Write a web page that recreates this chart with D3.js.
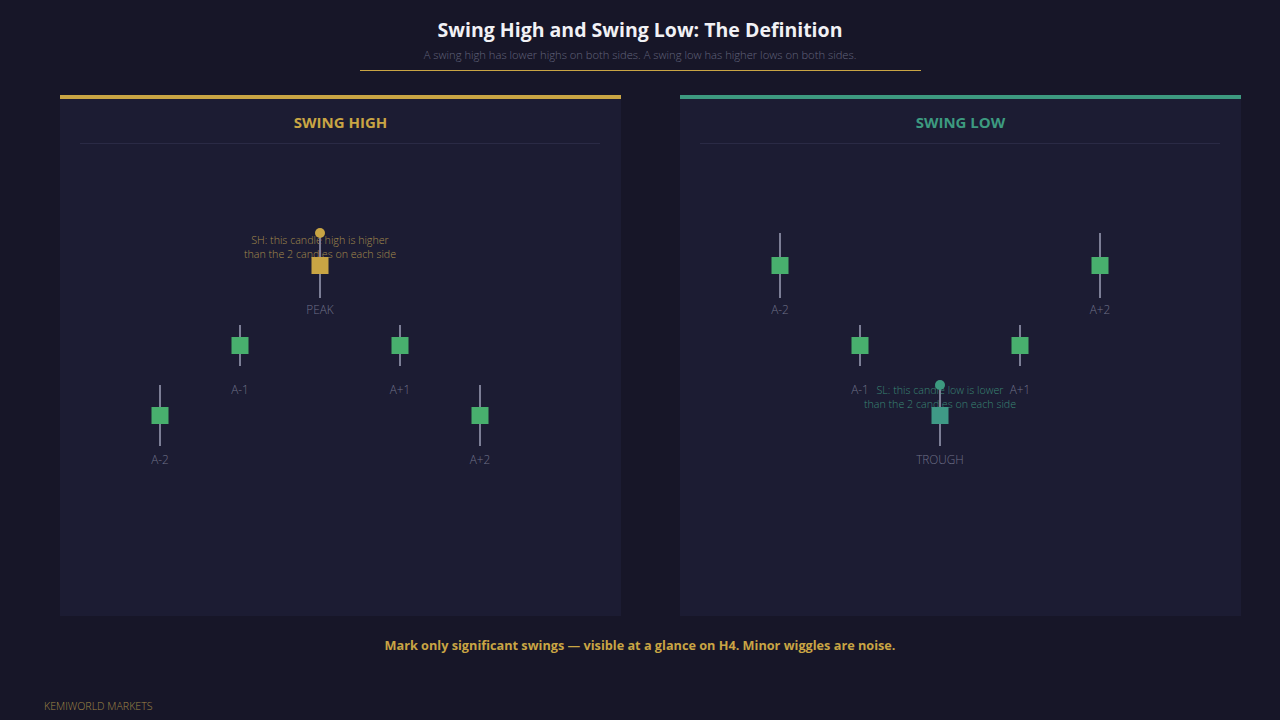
<!DOCTYPE html>
<html><head><meta charset="utf-8">
<script src="https://cdn.jsdelivr.net/npm/d3@7/dist/d3.min.js"></script>
<style>
html,body{margin:0;padding:0;background:#171628;}
svg{display:block;font-family:"Open Sans","Noto Sans",sans-serif;}
</style></head>
<body>
<svg id="c" width="1280" height="720"></svg>
<script>
// ---- data ----
const candleLabels = ["A-2","A-1","CENTER","A+1","A+2"];
const highLabels = ["A-2","A-1","PEAK","A+1","A+2"];
const lowLabels  = ["A-2","A-1","TROUGH","A+1","A+2"];
// Swing high panel (arbitrary price units)
const shHigh  = [115,175,267,175,115];
const shLow   = [54,134,202,134,54];
const shOpen  = [76,146,226,146,76];
const shClose = [93,163,243,163,93];
// Swing low panel
const slHigh  = [267,175,115,175,267];
const slLow   = [202,134,54,134,202];
const slOpen  = [226,146,76,146,226];
const slClose = [243,163,93,163,243];

const titleText = "Swing High and Swing Low: The Definition";
const subtitleText = "A swing high has lower highs on both sides. A swing low has higher lows on both sides.";
const footerText = "Mark only significant swings \u2014 visible at a glance on H4. Minor wiggles are noise.";
const brandText = "KEMIWORLD MARKETS";

const GOLD = "#c9a544", TEAL = "#3d9a80", GREEN = "#48b06e", WICK = "#7c7e96";

const svg = d3.select("#c");
svg.append("rect").attr("width",1280).attr("height",720).attr("fill","#171628");

svg.append("text").attr("x",640).attr("y",37).attr("text-anchor","middle")
  .attr("fill","#f1f1f5").attr("font-size",19.5).attr("font-weight",700).text(titleText);
svg.append("text").attr("x",640).attr("y",59).attr("text-anchor","middle")
  .attr("fill","#62647c").attr("font-size",11.2).attr("font-weight",300).text(subtitleText);
svg.append("line").attr("x1",360).attr("x2",921).attr("y1",70.5).attr("y2",70.5)
  .attr("stroke",GOLD).attr("stroke-width",1);

const y = d3.scaleLinear().domain([0,300]).range([500,200]);
const x = d3.scalePoint().domain(candleLabels).range([100,420]);

function panel(px, color, title, labels, hi, lo, op, cl, special, dotIdx, dotVal, noteY, noteLines, noteColor, specialColor){
  const g = svg.append("g").attr("transform",`translate(${px},0)`);
  g.append("rect").attr("x",0).attr("y",95).attr("width",561).attr("height",521).attr("fill","#1c1c33");
  g.append("rect").attr("x",0).attr("y",95).attr("width",561).attr("height",4).attr("fill",color);
  g.append("text").attr("x",280.5).attr("y",128).attr("text-anchor","middle")
    .attr("fill",color).attr("font-size",15).attr("font-weight",700).text(title);
  g.append("line").attr("x1",20).attr("x2",540).attr("y1",143.5).attr("y2",143.5)
    .attr("stroke","#2a2a45").attr("stroke-width",1);
  const data = candleLabels.map((k,i)=>({k,label:labels[i],h:hi[i],l:lo[i],o:op[i],c:cl[i],i}));
  // note text (drawn under candle)
  noteLines.forEach((t,j)=>{
    g.append("text").attr("x",x("CENTER")).attr("y",noteY + j*14).attr("text-anchor","middle")
      .attr("fill",noteColor).attr("font-size",10.7).attr("font-weight",300).text(t);
  });
  const c = g.selectAll("g.cd").data(data).join("g").attr("class","cd");
  c.append("line").attr("x1",d=>x(d.k)).attr("x2",d=>x(d.k))
    .attr("y1",d=>y(d.h)).attr("y2",d=>y(d.l)).attr("stroke",WICK).attr("stroke-width",2);
  c.append("rect").attr("x",d=>x(d.k)-8.5).attr("width",17)
    .attr("y",d=>y(Math.max(d.o,d.c))).attr("height",d=>Math.abs(y(d.o)-y(d.c)))
    .attr("fill",d=>d.i===special?specialColor:GREEN);
  c.append("text").attr("x",d=>x(d.k)).attr("y",d=>y(Math.min(d.o,d.c))+40).attr("text-anchor","middle")
    .attr("fill","#6e7088").attr("font-size",11.8).attr("font-weight",300).text(d=>d.label);
  g.append("circle").attr("cx",x(candleLabels[dotIdx])).attr("cy",y(dotVal)).attr("r",5).attr("fill",color);
}

panel(60, GOLD, "SWING HIGH", highLabels, shHigh, shLow, shOpen, shClose, 2, 2, shHigh[2], 244,
  ["SH: this candle high is higher","than the 2 candles on each side"], "#a48b4d", GOLD);
panel(680, TEAL, "SWING LOW", lowLabels, slHigh, slLow, slOpen, slClose, 2, 2, slHigh[2], 394,
  ["SL: this candle low is lower","than the 2 candles on each side"], "#3a8673", "#3f9a86");

svg.append("text").attr("x",640).attr("y",650).attr("text-anchor","middle")
  .attr("fill",GOLD).attr("font-size",12.7).attr("font-weight",700).text(footerText);
svg.append("text").attr("x",44).attr("y",710).attr("fill","#a08647")
  .attr("font-size",10.6).attr("font-weight",300).text(brandText);
</script>
</body></html>
